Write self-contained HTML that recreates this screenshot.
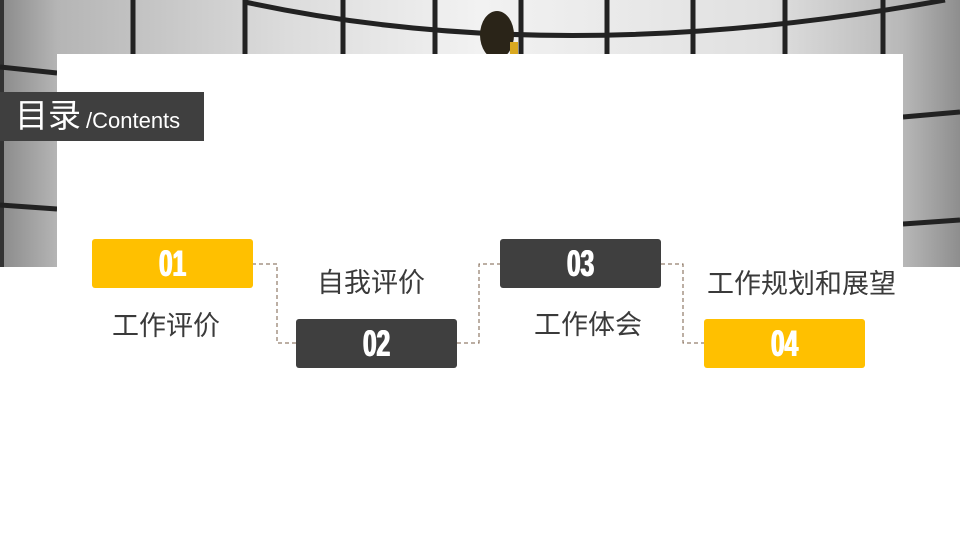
<!DOCTYPE html>
<html><head><meta charset="utf-8"><style>
html,body{margin:0;padding:0;background:#fff;}
body{width:960px;height:540px;position:relative;overflow:hidden;font-family:"Liberation Sans","Noto Sans CJK SC",sans-serif;}
.abs{position:absolute;}
.box{position:absolute;width:161px;height:49px;border-radius:3px;color:#fff;text-align:center;line-height:50px;}
.box span{display:inline-block;font-family:"Liberation Sans",sans-serif;font-weight:bold;font-size:37px;transform:scaleX(0.66);text-shadow:1px 0 0 #fff,-1px 0 0 #fff;}
.y{background:#FFC000;}
.d{background:#3f3f3f;}
.lbl{position:absolute;font-size:27px;color:#3a3a3a;white-space:nowrap;line-height:30px;}
</style></head><body>
<svg class="abs" style="left:0;top:0" width="960" height="540">
<defs>
<linearGradient id="g" x1="0" y1="0" x2="1" y2="0">
<stop offset="0" stop-color="#8a8a8a"/><stop offset="0.06" stop-color="#b5b5b5"/>
<stop offset="0.3" stop-color="#dcdcdc"/><stop offset="0.5" stop-color="#f2f2f2"/>
<stop offset="0.8" stop-color="#e0e0e0"/><stop offset="0.94" stop-color="#b8b8b8"/><stop offset="1" stop-color="#8e8e8e"/>
</linearGradient>
</defs>
<rect x="0" y="0" width="960" height="267" fill="url(#g)"/>
<rect x="0" y="0" width="4" height="267" fill="#333"/>
<g stroke="#222" stroke-width="5" fill="none">
<line x1="133" y1="0" x2="133" y2="54"/><line x1="245" y1="0" x2="245" y2="54"/>
<line x1="343" y1="0" x2="343" y2="54"/><line x1="435" y1="0" x2="435" y2="54"/>
<line x1="521" y1="0" x2="521" y2="54"/><line x1="607" y1="0" x2="607" y2="54"/>
<line x1="693" y1="0" x2="693" y2="54"/><line x1="785" y1="0" x2="785" y2="54"/>
<line x1="883" y1="0" x2="883" y2="54"/>
<path d="M245 2 Q560 70 945 0"/>
<line x1="0" y1="67" x2="57" y2="73"/><line x1="0" y1="205" x2="57" y2="209"/>
<line x1="903" y1="117" x2="960" y2="112"/><line x1="903" y1="224" x2="960" y2="220"/>
</g>
<ellipse cx="497" cy="35" rx="17" ry="24" fill="#2a2418"/>
<rect x="510" y="42" width="8" height="12" fill="#d9a820"/>
<rect x="57" y="54" width="846" height="486" fill="#fff"/>
<g stroke="#7a5f48" stroke-width="1" stroke-dasharray="4,3" fill="none">
<polyline points="252,264 277,264 277,343 296,343"/>
<polyline points="457,343 479,343 479,264 500,264"/>
<polyline points="661,264 683,264 683,343 704,343"/>
</g>
</svg>
<div class="abs" style="left:0;top:92px;width:204px;height:49px;background:#3f3f3f;color:#fff;white-space:nowrap;">
<span class="abs" style="left:15px;top:6px;font-size:33px;line-height:36px;">目录</span>
<span class="abs" style="left:86px;top:16px;font-size:22px;line-height:26px;">/Contents</span>
</div>
<div class="box y" style="left:92px;top:239px"><span>01</span></div>
<div class="box d" style="left:296px;top:319px"><span>02</span></div>
<div class="box d" style="left:500px;top:239px"><span>03</span></div>
<div class="box y" style="left:704px;top:319px"><span>04</span></div>
<div class="lbl" style="left:112px;top:311px">工作评价</div>
<div class="lbl" style="left:317px;top:268px">自我评价</div>
<div class="lbl" style="left:534px;top:310px">工作体会</div>
<div class="lbl" style="left:707px;top:269px">工作规划和展望</div>
</body></html>
